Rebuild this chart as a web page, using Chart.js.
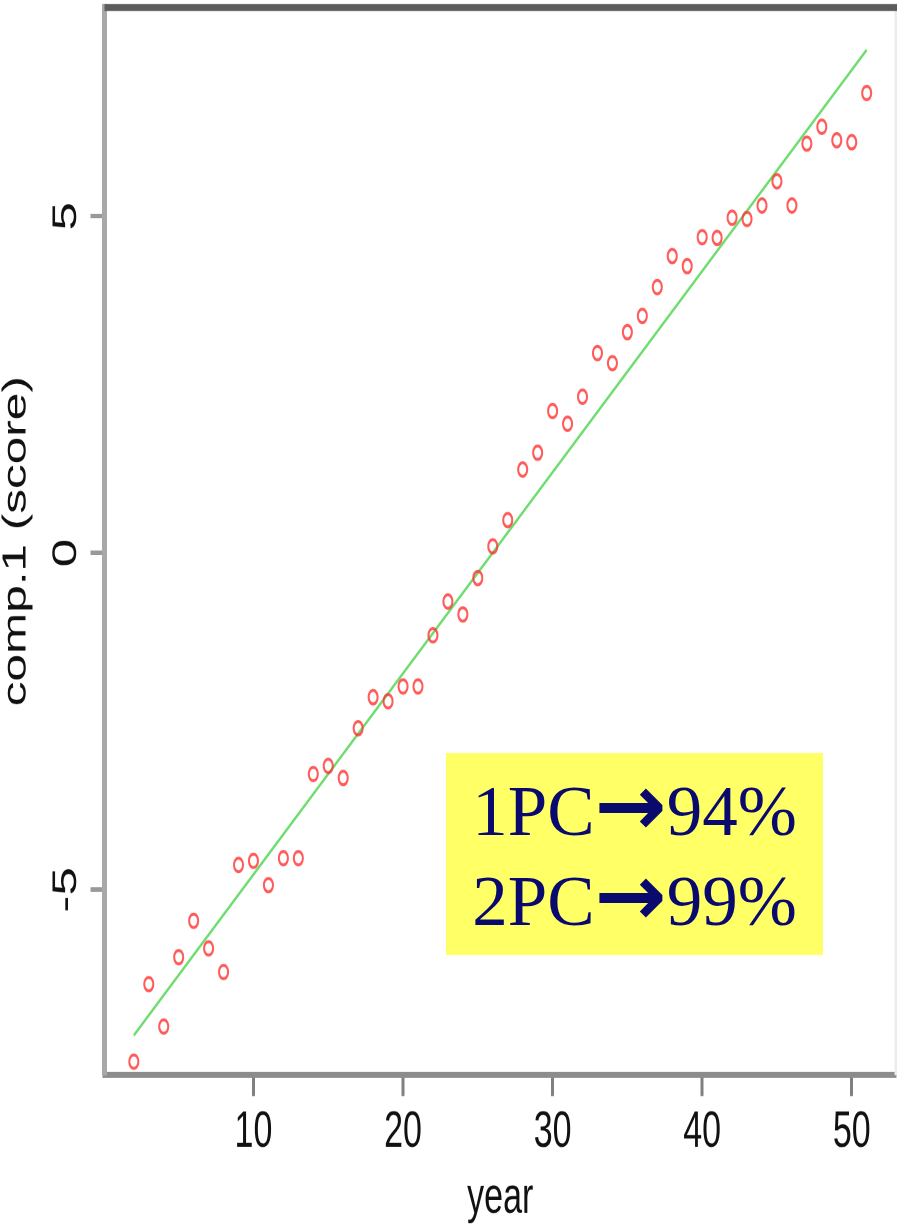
<!DOCTYPE html>
<html>
<head>
<meta charset="utf-8">
<script src="https://cdn.jsdelivr.net/npm/chart.js@4"></script>
<style>
  html, body { margin: 0; padding: 0; background: #fff; overflow: hidden; }
  #wrap { position: absolute; left: 0; top: 0; width: 897px; height: 816px; transform: scaleY(1.5); transform-origin: 0 0; }
  #note {
    position: absolute; left: 446px; top: 753px; width: 377px; height: 202px;
    background: #ffff66; color: #0a0a6e; box-sizing: border-box; padding-top: 13px;
    font-family: "Liberation Serif", "Times New Roman", serif; font-size: 71px; line-height: 90px;
    text-align: center; white-space: nowrap;
  }
  #note .arr { font-family: "DejaVu Sans", sans-serif; font-weight: bold; font-size: 86px; line-height: 0; }
</style>
</head>
<body>
<div id="wrap"><canvas id="chart"></canvas></div>
<div id="note">1PC<span class="arr">→</span>94%<br>2PC<span class="arr">→</span>99%</div>
<script>
const years = [2, 3, 4, 5, 6, 7, 8, 9, 10, 11, 12, 13, 14, 15, 16, 17, 18, 19, 20, 21,
  22, 23, 24, 25, 26, 27, 28, 29, 30, 31, 32, 33, 34, 35, 36, 37, 38, 39, 40, 41,
  42, 43, 44, 45, 46, 47, 48, 49, 50, 51];
const scores = [-7.55, -6.40, -7.03, -6.00, -5.46, -5.87, -6.22, -4.63, -4.57, -4.93,
  -4.53, -4.53, -3.28, -3.16, -3.34, -2.60, -2.14, -2.20, -1.98, -1.98,
  -1.22, -0.72, -0.91, -0.37, 0.10, 0.49, 1.24, 1.49, 2.11, 1.92,
  2.32, 2.97, 2.82, 3.28, 3.52, 3.95, 4.41, 4.26, 4.69, 4.68,
  4.98, 4.96, 5.16, 5.52, 5.16, 6.08, 6.33, 6.13, 6.10, 6.83];
const fitYears = [2, 51];
const fitScores = [-7.16, 7.47];
const xTicks = [10, 20, 30, 40, 50];
const yTicks = [-5, 0, 5];

const font = { family: "'Liberation Sans', Arial, sans-serif", size: 34 };

const boxLines = {
  id: "boxLines",
  beforeDatasetsDraw(chart) {
    const { ctx, chartArea: a } = chart;
    ctx.save();
    ctx.strokeStyle = "#ececec";
    ctx.lineWidth = 3;
    ctx.beginPath();
    ctx.moveTo(a.right, a.top);
    ctx.lineTo(a.right, a.bottom);
    ctx.stroke();
    ctx.strokeStyle = "#5c5c5c";
    ctx.lineWidth = 4.7;
    ctx.beginPath();
    ctx.moveTo(a.left, a.top);
    ctx.lineTo(a.right + 2, a.top);
    ctx.stroke();
    ctx.restore();
  }
};

// no extra room for the tick labels at the scale ends
function noPad(s) {
  s.paddingTop = 0;
  s.paddingBottom = 0;
  s.paddingLeft = 0;
  s.paddingRight = 0;
}

new Chart(document.getElementById("chart"), {
  type: "scatter",
  data: {
    datasets: [{
      label: "comp.1",
      data: years.map((y, i) => ({ x: y, y: scores[i] })),
      borderColor: "rgba(255,50,50,0.8)",
      backgroundColor: "rgba(0,0,0,0)",
      borderWidth: 2,
      pointRadius: 4.5,
      pointStyle: "circle"
    }, {
      label: "fit",
      type: "line",
      data: fitYears.map((y, i) => ({ x: y, y: fitScores[i] })),
      borderColor: "rgb(110,220,110)",
      borderWidth: 2,
      pointRadius: 0,
      fill: false
    }]
  },
  options: {
    responsive: true,
    maintainAspectRatio: false,
    animation: false,
    devicePixelRatio: 2,
    layout: { autoPadding: false, padding: { top: 5, right: 1, left: 0, bottom: 0 } },
    plugins: { legend: { display: false }, tooltip: { enabled: false } },
    scales: {
      x: {
        type: "linear",
        min: 0.04,
        max: 52.96,
        afterBuildTicks: s => { s.ticks = xTicks.map(v => ({ value: v })); },
        afterFit: s => { s.height = 99.3; noPad(s); },
        ticks: { font: font, color: "#111", padding: 4, maxRotation: 0 },
        grid: { drawOnChartArea: false, drawTicks: true, tickLength: 14, tickColor: "#808080", tickWidth: 3 },
        border: { display: true, color: "#8c8c8c", width: 4 },
        title: { display: true, text: "year", font: { ...font, lineHeight: 1 }, color: "#111", padding: { top: 0, bottom: 0 } }
      },
      y: {
        type: "linear",
        min: -7.75,
        max: 8.1,
        afterBuildTicks: s => { s.ticks = yTicks.map(v => ({ value: v })); },
        afterFit: s => { s.width = 104.5; noPad(s); },
        ticks: { font: font, color: "#111", padding: 9, minRotation: 90, maxRotation: 90, crossAlign: "center" },
        grid: { drawOnChartArea: false, drawTicks: true, tickLength: 14, tickColor: "#999999", tickWidth: 3 },
        border: { display: true, color: "#a8a8a8", width: 5 },
        title: { display: true, text: "comp.1 (score)", font: { ...font, size: 33, lineHeight: 1 }, color: "#111", padding: { top: 0, bottom: 0 } }
      }
    }
  },
  plugins: [boxLines]
});
</script>
</body>
</html>
